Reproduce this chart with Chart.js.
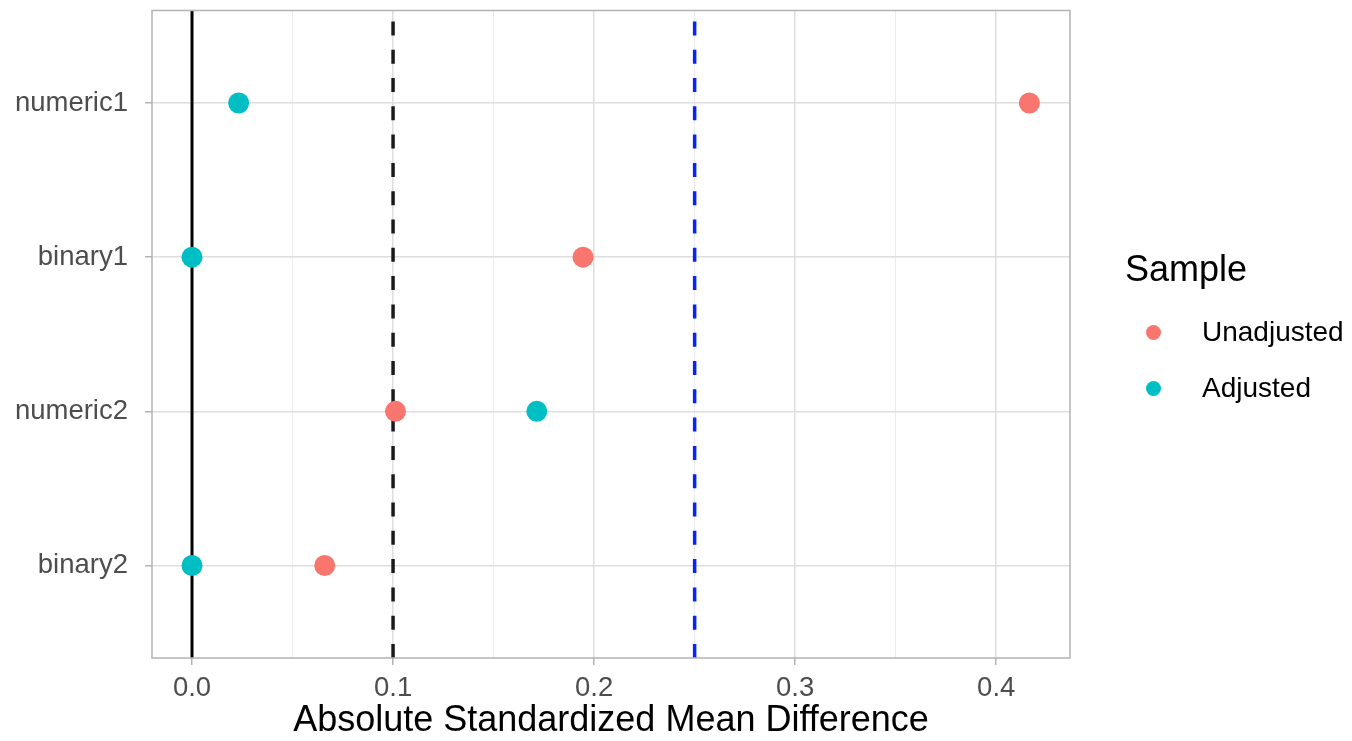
<!DOCTYPE html>
<html>
<head>
<meta charset="utf-8">
<script src="https://cdn.jsdelivr.net/npm/chart.js@4.4.1/dist/chart.umd.min.js"></script>
<style>
  body { margin: 0; background: #fff; font-family: "Liberation Sans", Arial, sans-serif; }
  #wrap { position: relative; width: 1352px; height: 741px; }
  .lg { position: absolute; line-height: 1; color: #000; white-space: nowrap; }
  .dot { position: absolute; width: 15px; height: 15px; border-radius: 50%; }
</style>
</head>
<body>
<div id="wrap">
  <canvas id="chart-love"></canvas>
  <div class="lg" style="left:1125px; top:251px; font-size:36px;">Sample</div>
  <div class="dot" style="left:1146px; top:325px; background:#F8766D;"></div>
  <div class="lg" style="left:1202px; top:318px; font-size:28px;">Unadjusted</div>
  <div class="dot" style="left:1146px; top:381px; background:#00BFC4;"></div>
  <div class="lg" style="left:1202px; top:374px; font-size:28px;">Adjusted</div>
</div>
<script>
// covariates, top to bottom
var covariates = ["numeric1", "binary1", "numeric2", "binary2"];
var unadjusted = [0.4165, 0.1945, 0.1012, 0.066];
var adjusted = [0.0232, 0.0, 0.1715, 0.0];

var major_ticks = [0.0, 0.1, 0.2, 0.3, 0.4];
var minor_ticks = [0.05, 0.15, 0.25, 0.35];
var x_min = -0.0199, x_max = 0.4367;
var y_min = 0.4, y_max = 4.6;

// reference lines: zero, 0.1 threshold, 0.25 threshold
var ref_zero = 0;
var ref_thresh1 = 0.1;
var ref_thresh2 = 0.25;

function points(vals){
  return vals.map(function(v, i){ return {x: v, y: i + 1}; });
}
function vline(v){
  // bottom to top, so the dash pattern starts at the bottom like ggplot
  return [{x: v, y: y_max}, {x: v, y: y_min}];
}

var panelBorder = {
  id: 'panelBorder',
  afterDatasetsDraw: function(chart){
    var a = chart.chartArea, c = chart.ctx;
    c.save();
    c.strokeStyle = '#b3b3b3';
    c.lineWidth = 1.5;
    c.strokeRect(a.left, a.top, a.right - a.left, a.bottom - a.top);
    c.restore();
  }
};

function noPad(scale){
  scale.paddingTop = 0;
  scale.paddingBottom = 0;
  scale.paddingLeft = 0;
  scale.paddingRight = 0;
}

var ctx = document.getElementById("chart-love").getContext("2d");
new Chart(ctx, {
  type: "scatter",
  data: {
    datasets: [{
      label: "Unadjusted",
      data: points(unadjusted),
      pointRadius: 10.5,
      pointHoverRadius: 10.5,
      pointBackgroundColor: "#F8766D",
      pointBorderWidth: 0,
      order: 0
    }, {
      label: "Adjusted",
      data: points(adjusted),
      pointRadius: 10.5,
      pointHoverRadius: 10.5,
      pointBackgroundColor: "#00BFC4",
      pointBorderWidth: 0,
      order: 0
    }, {
      label: "zero",
      data: vline(ref_zero),
      showLine: true,
      borderColor: "#000",
      borderWidth: 3,
      pointRadius: 0,
      order: 1
    }, {
      label: "thresh1",
      data: vline(ref_thresh1),
      showLine: true,
      borderColor: "#1a1a1a",
      borderWidth: 3.5,
      borderDash: [14, 14.3],
      pointRadius: 0,
      order: 1
    }, {
      label: "thresh2",
      data: vline(ref_thresh2),
      showLine: true,
      borderColor: "#0522ff",
      borderWidth: 3.5,
      borderDash: [14, 14.3],
      pointRadius: 0,
      order: 1
    }]
  },
  options: {
    responsive: true,
    maintainAspectRatio: false,
    animation: false,
    layout: { padding: { left: 0, right: 282, top: 9, bottom: 0 } },
    plugins: {
      legend: { display: false },
      tooltip: { enabled: false }
    },
    scales: {
      x: {
        type: 'linear',
        min: x_min,
        max: x_max,
        afterBuildTicks: function(scale){
          scale.ticks = major_ticks.concat(minor_ticks).map(function(v){ return {value: v}; });
        },
        afterFit: function(scale){ scale.height = 83; noPad(scale); },
        border: { display: false },
        grid: {
          color: function(c){ return major_ticks.indexOf(c.tick.value) >= 0 ? '#dedede' : '#ebebeb'; },
          lineWidth: function(c){ return major_ticks.indexOf(c.tick.value) >= 0 ? 1.5 : 1; },
          tickColor: function(c){ return major_ticks.indexOf(c.tick.value) >= 0 ? '#b3b3b3' : 'rgba(0,0,0,0)'; },
          tickWidth: 1.5,
          tickLength: 7
        },
        ticks: {
          autoSkip: false,
          maxRotation: 0,
          color: '#4d4d4d',
          padding: 7,
          font: { size: 27.5, family: "Liberation Sans" },
          callback: function(v){ return major_ticks.indexOf(v) >= 0 ? v.toFixed(1) : ''; }
        },
        title: {
          display: true,
          text: 'Absolute Standardized Mean Difference',
          color: '#000',
          padding: 0,
          font: { size: 36, family: "Liberation Sans", lineHeight: 1.1 }
        }
      },
      y: {
        type: 'linear',
        reverse: true,
        min: y_min,
        max: y_max,
        afterBuildTicks: function(scale){
          scale.ticks = covariates.map(function(c, i){ return {value: i + 1}; });
        },
        afterFit: function(scale){ scale.width = 152; noPad(scale); },
        border: { display: false },
        grid: {
          color: '#dedede',
          lineWidth: 1.5,
          tickColor: '#b3b3b3',
          tickWidth: 1.5,
          tickLength: 7
        },
        ticks: {
          autoSkip: false,
          color: '#4d4d4d',
          padding: 17,
          font: { size: 27.5, family: "Liberation Sans" },
          callback: function(v){ return covariates[v - 1]; }
        }
      }
    }
  },
  plugins: [panelBorder]
});
</script>
</body>
</html>
